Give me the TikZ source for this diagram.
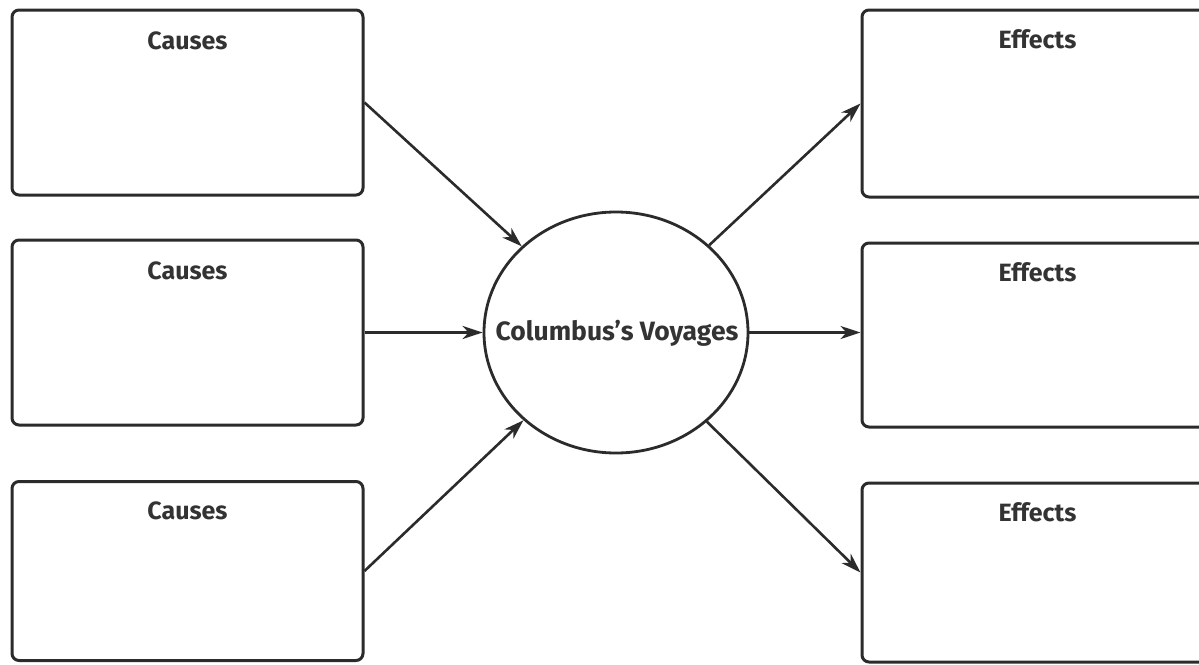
\documentclass[tikz,border=0pt]{standalone}
\usepackage{fontspec}
\setmainfont{Fira Sans}
\usetikzlibrary{arrows.meta,shapes.geometric,calc}
\definecolor{ink}{HTML}{2B2B2B}
\definecolor{txt}{HTML}{333333}
\tikzset{
  box/.style={draw=ink, line width=3pt, rounded corners=7pt, minimum width=351pt, minimum height=#1, inner sep=0pt},
  lbl/.style={text=txt, font=\fontsize{25}{30}\selectfont\bfseries, inner sep=0pt, anchor=center},
  hub/.style={draw=ink, line width=2.8pt, ellipse, minimum width=264pt, minimum height=241pt, inner sep=0pt},
  hubtext/.style={text=txt, font=\fontsize{26.5}{32}\selectfont\bfseries, inner sep=0pt},
  conn/.style={draw=ink, line width=2.6pt, -{Stealth[length=20pt, width=13pt, inset=6pt]}}
}
\begin{document}
\begin{tikzpicture}[x=1pt, y=-1pt]
\useasboundingbox (0,0) rectangle (1199,664);
\clip (0,0) rectangle (1199,664);
\fill[white] (0,0) rectangle (1199,664);
% cause boxes
\node[box=185pt] (c1) at (187.5,102.5) {};
\node[box=185pt] (c2) at (187.5,332.5) {};
\node[box=179pt] (c3) at (187.5,571) {};
% effect boxes
\node[box=187pt] (e1) at (1037.5,103.5) {};
\node[box=184pt] (e2) at (1037.5,335) {};
\node[box=179pt] (e3) at (1037.5,572.5) {};
% labels
\node[lbl] (c1t) at ($(c1.north)+(0,32)$) {Causes};
\node[lbl] (c2t) at ($(c2.north)+(0,32)$) {Causes};
\node[lbl] (c3t) at ($(c3.north)+(0,31)$) {Causes};
\node[lbl] (e1t) at ($(e1.north)+(0,31)$) {Effects};
\node[lbl] (e2t) at ($(e2.north)+(0,31)$) {Effects};
\node[lbl] (e3t) at ($(e3.north)+(0,31)$) {Effects};
% hub
\node[hub] (v) at (616,332.5) {};
\node[hubtext] (vt) at (617,333) {Columbus’s Voyages};
% connectors
\draw[conn] (c1.east) -- (v);
\draw[conn] (c2.east) -- (v);
\draw[conn] (c3.east) -- (v);
\draw[conn] (v) -- (e1.west);
\draw[conn] (v.east) -- (v.east -| e2.west);
\draw[conn] (v) -- (e3.west);
\end{tikzpicture}
\end{document}
